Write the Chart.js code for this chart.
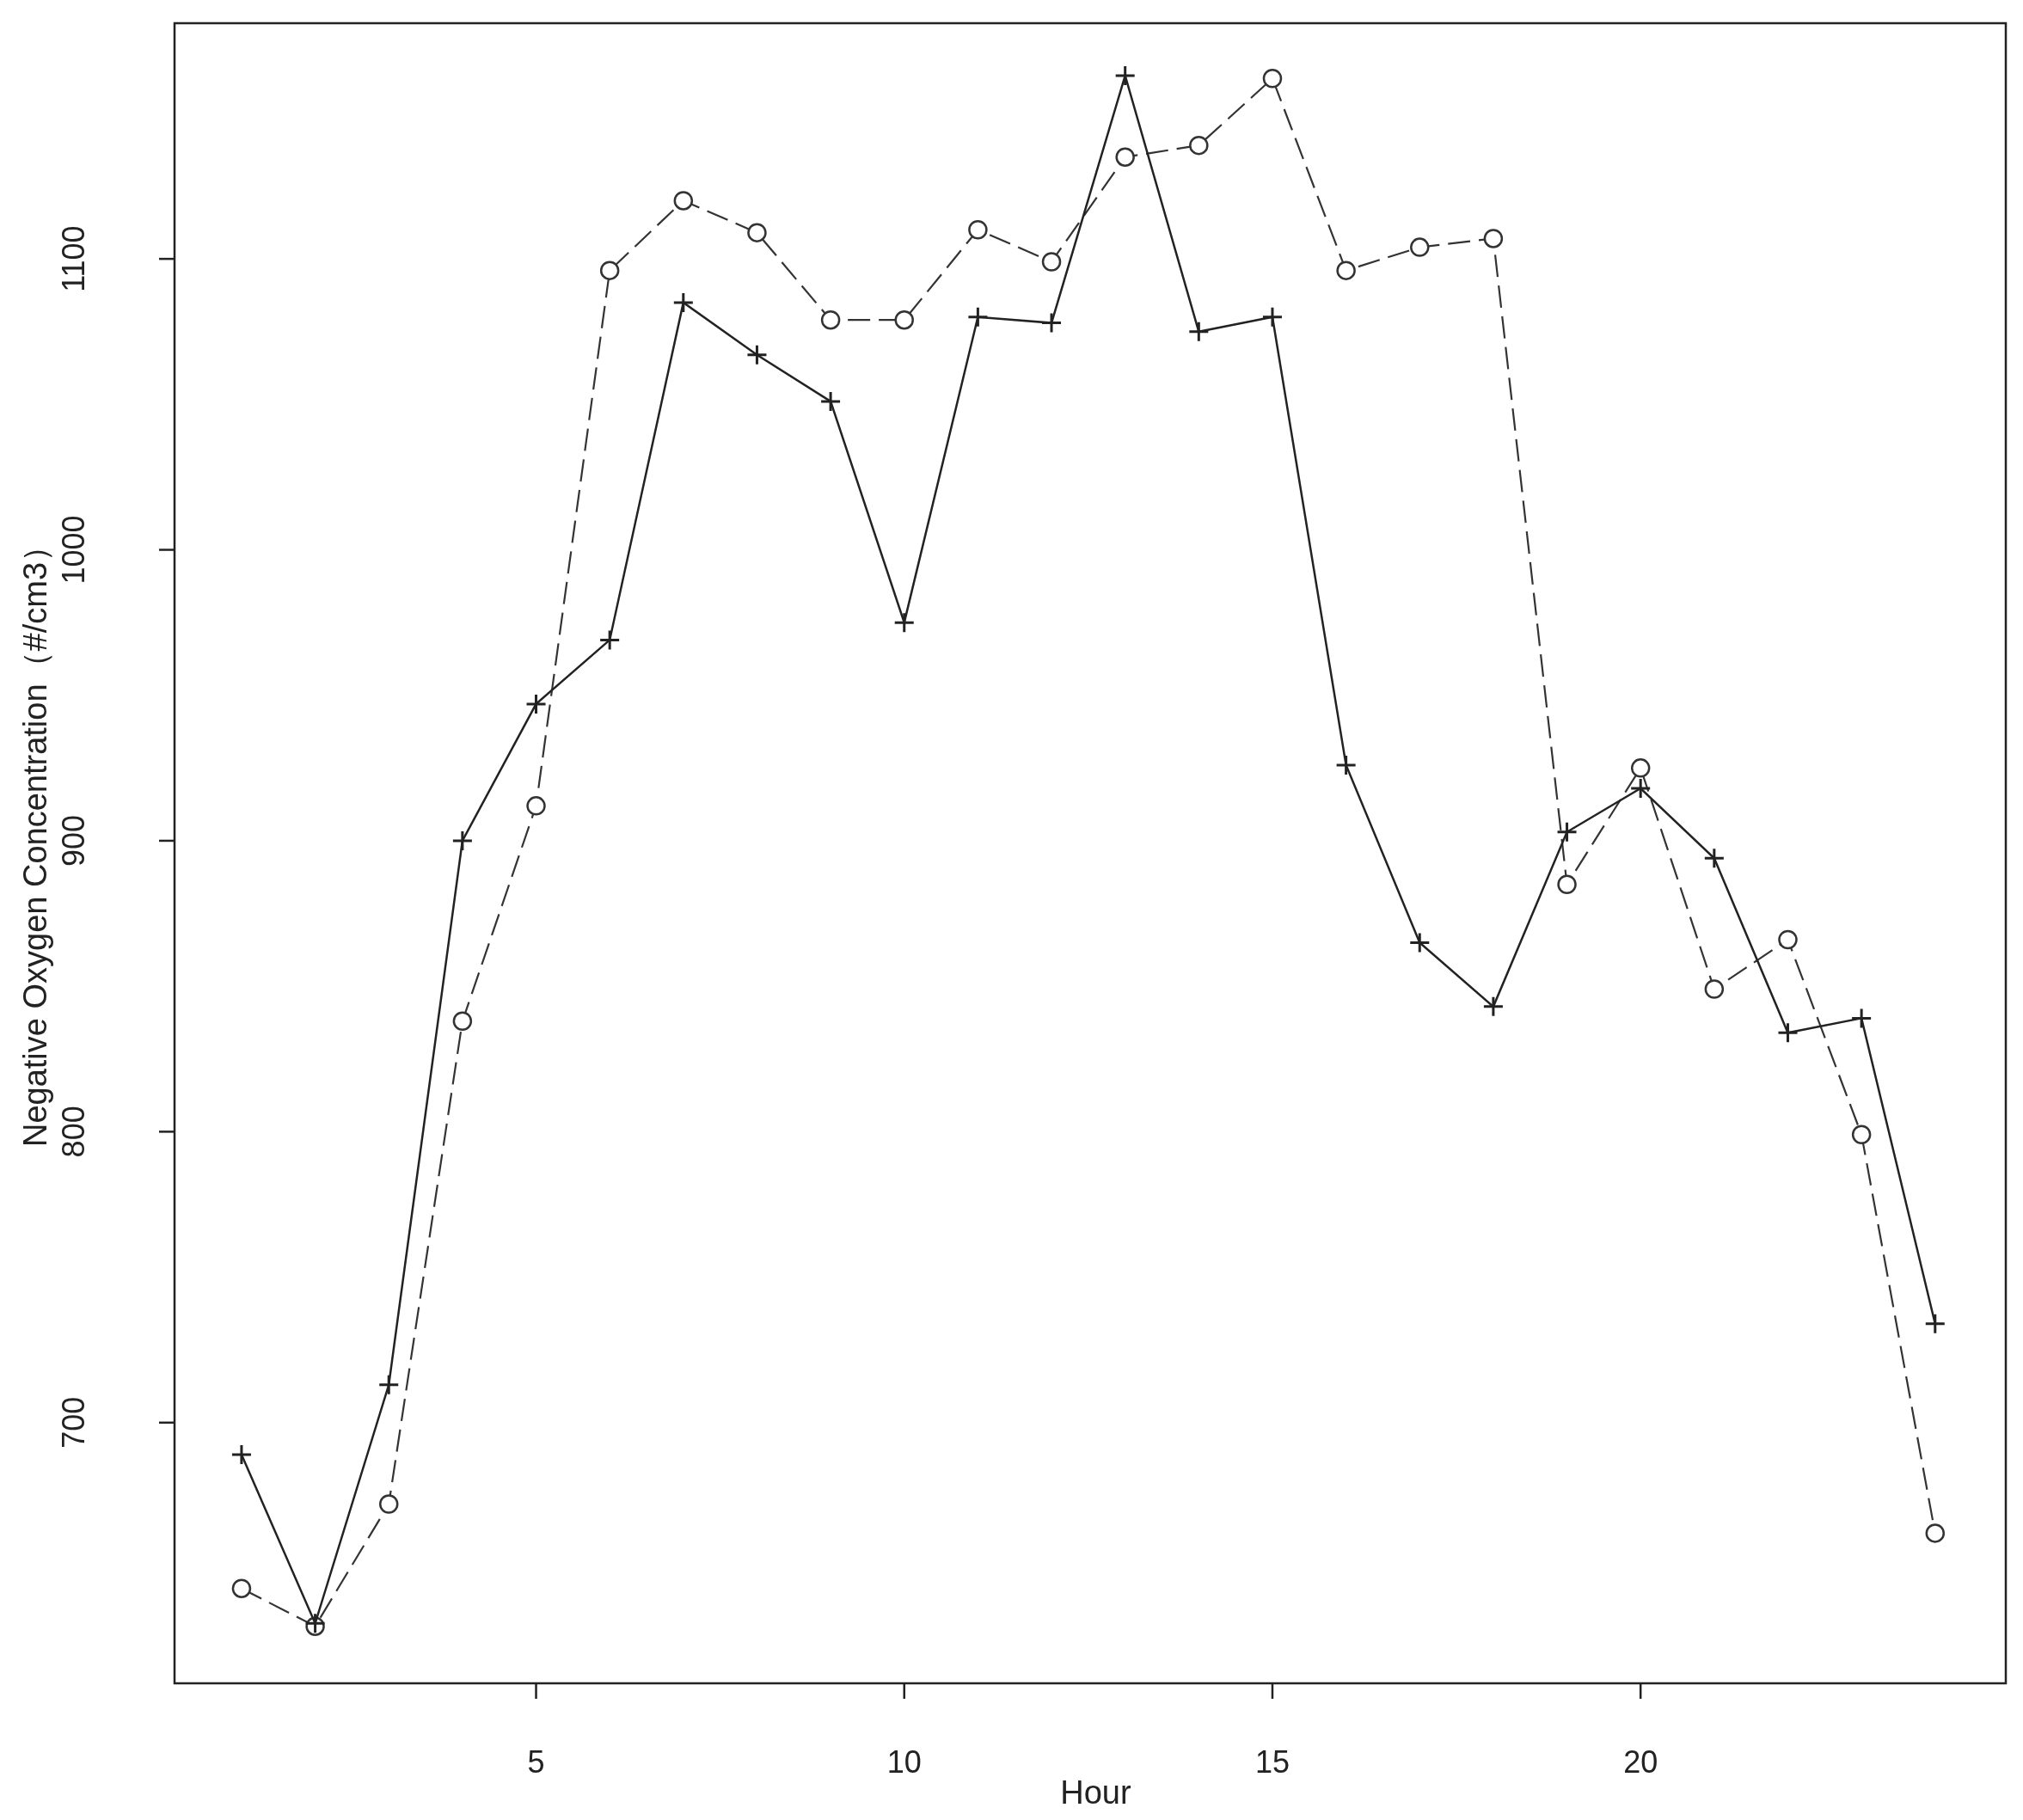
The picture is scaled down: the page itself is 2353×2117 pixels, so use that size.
<!DOCTYPE html>
<html>
<head>
<meta charset="utf-8">
<script src="https://cdn.jsdelivr.net/npm/chart.js@4/dist/chart.umd.min.js"></script>
<style>
  html, body { margin: 0; padding: 0; background: #fff; }
  #wrap { width: 2353px; height: 2117px; }
</style>
</head>
<body>
<div id="wrap"><canvas id="myChart" width="2353" height="2117"></canvas></div>
<script>
  "use strict";

  const hours = [1,2,3,4,5,6,7,8,9,10,11,12,13,14,15,16,17,18,19,20,21,22,23,24];
  const crossSeries = [689,631,713,900,947,969,1085,1067,1051,975,1080,1078,1163,1075,1080,926,865,843,903,918,894,834,839,734];
  const circleSeries = [643,630,672,838,912,1096,1120,1109,1079,1079,1110,1099,1135,1139,1162,1096,1104,1107,885,925,849,866,799,662];
  const xTicks = [5,10,15,20];
  const yTicks = [700,800,900,1000,1100];

  const FONT = "Arial, 'Liberation Sans', sans-serif";

  function toPoints(vals) {
    return hours.map(function (h, i) { return { x: h, y: vals[i] }; });
  }

  // draw the box, ticks and labels R-style
  const frame = {
    id: "frame",
    afterDraw(chart) {
      const c = chart.ctx, a = chart.chartArea;
      const xs = chart.scales.x, ys = chart.scales.y;
      c.save();
      c.strokeStyle = "#222";
      c.lineWidth = 2.5;
      c.strokeRect(a.left, a.top, a.right - a.left, a.bottom - a.top);
      c.fillStyle = "#222";
      c.font = "36px " + FONT;
      c.textAlign = "center";
      c.textBaseline = "middle";
      xTicks.forEach(function (t) {
        const px = xs.getPixelForValue(t);
        c.beginPath(); c.moveTo(px, a.bottom); c.lineTo(px, a.bottom + 18); c.stroke();
        c.fillText(String(t), px, 2052);
      });
      yTicks.forEach(function (t) {
        const py = ys.getPixelForValue(t);
        c.beginPath(); c.moveTo(a.left, py); c.lineTo(a.left - 18, py); c.stroke();
        c.save();
        c.translate(88, py);
        c.rotate(-Math.PI / 2);
        c.fillText(String(t), 0, 0);
        c.restore();
      });
      c.font = "38px " + FONT;
      c.fillText("Hour", xs.getPixelForValue(12.6), 2088);
      c.save();
      c.translate(44, 975);
      c.rotate(-Math.PI / 2);
      c.fillText("Negative Oxygen Concentration\uff08#/cm3\uff09", 0, 0);
      c.restore();
      c.restore();
    }
  };

  const ctx = document.getElementById("myChart").getContext("2d");
  const myChart = new Chart(ctx, {
    type: "scatter",
    data: {
      datasets: [
        {
          label: "cross",
          data: toPoints(crossSeries),
          showLine: true,
          borderColor: "#222",
          borderWidth: 2.5,
          pointStyle: "cross",
          pointRadius: 11,
          pointBorderWidth: 3,
          pointBorderColor: "#222",
        },
        {
          label: "circle",
          data: toPoints(circleSeries),
          showLine: true,
          borderColor: "#333",
          borderWidth: 2.2,
          borderDash: [26, 10],
          pointStyle: "circle",
          pointRadius: 10,
          pointBorderWidth: 2.5,
          pointBackgroundColor: "#fff",
          pointBorderColor: "#333",
        },
      ],
    },
    options: {
      responsive: false,
      animation: false,
      layout: { padding: { top: 27, right: 20, left: 0, bottom: 0 } },
      plugins: { legend: { display: false }, tooltip: { enabled: false } },
      scales: {
        x: {
          type: "linear",
          min: 0.09,
          max: 24.96,
          grid: { display: false },
          border: { display: false },
          ticks: { display: false },
          afterFit(s) { s.height = 159; },
        },
        y: {
          min: 610.4,
          max: 1181,
          grid: { display: false },
          border: { display: false },
          ticks: { display: false },
          afterFit(s) { s.width = 203; },
        },
      },
    },
    plugins: [frame],
  });
</script>
</body>
</html>
